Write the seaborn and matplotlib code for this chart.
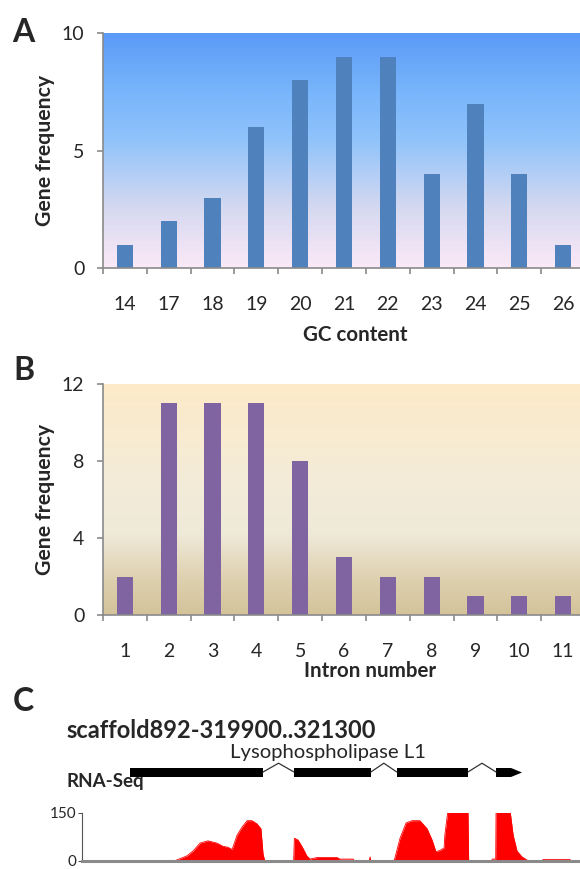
import numpy as np
import matplotlib
matplotlib.use("Agg")
import matplotlib.pyplot as plt
import seaborn as sns
from matplotlib.colors import LinearSegmentedColormap
from matplotlib.patches import Rectangle, Polygon

# ---------------- data ----------------
gc_content = ["14", "17", "18", "19", "20", "21", "22", "23", "24", "25", "26"]
gc_freq = [1, 2, 3, 6, 8, 9, 9, 4, 7, 4, 1]

intron_number = ["1", "2", "3", "4", "5", "6", "7", "8", "9", "10", "11"]
intron_freq = [2, 11, 11, 11, 8, 3, 2, 2, 1, 1, 1]

scaffold_title = "scaffold892-319900..321300"
gene_name = "Lysophospholipase L1"
region_start, region_end = 319900, 321300
exon_starts = [320035, 320496, 320785, 321064]
exon_ends = [320409, 320712, 320985, 321106]
arrow_tip = 321137

cov_pos = [320159, 320195, 320212, 320232, 320254, 320279, 320296, 320310, 320322,
           320336, 320350, 320364, 320378, 320392, 320403, 320409, 320414,
           320495, 320497, 320507, 320518, 320532, 320541, 320561, 320617, 320625,
           320662, 320667, 320707, 320710, 320712,
           320777, 320780, 320794, 320811, 320828, 320850, 320870, 320884, 320895,
           320906, 320918, 320920, 320929, 320985, 320987,
           321052, 321053, 321063, 321064, 321103, 321112, 321123, 321137, 321151,
           321159, 321195, 321196, 321272, 321273]
cov_val = [0, 16, 31, 56, 63, 56, 46, 43, 36,
           81, 106, 126, 126, 116, 101, 21, 0,
           0, 71, 66, 46, 16, 6, 11, 11, 6,
           6, 0, 0, 13, 0,
           0, 11, 71, 119, 126, 126, 101, 66, 29,
           33, 41, 81, 160, 160, 0,
           0, 6, 6, 160, 160, 81, 31, 13, 3,
           0, 0, 5, 5, 0]

# ---------------- style ----------------
sns.set_theme(style="white")
plt.rcParams['font.family'] = ['Lato', 'DejaVu Sans']

W, H = 580, 869
fig = plt.figure(figsize=(W / 100, H / 100), dpi=100)


def ax_px(l, t, r, b):
    return fig.add_axes([l / W, 1 - b / H, (r - l) / W, (b - t) / H])


def ftext(x, y, s, **kw):
    return fig.text(x / W, 1 - y / H, s, **kw)


GRAY = "#8a8a8a"

cmapA = LinearSegmentedColormap.from_list(
    "A", [(0.0, "#fbe9f7"), (0.25, "#d6d9f0"), (0.55, "#8fc3fb"), (0.75, "#78b5fb"), (1.0, "#5b9bf8")])
cmapB = LinearSegmentedColormap.from_list(
    "B", [(0.0, "#d4c39a"), (0.15, "#ddd0ae"), (0.35, "#efe9d8"), (0.6, "#f4ecd8"), (1.0, "#fdeac8")])


def bar_panel(ax, cats, vals, color, ymax, yticks, cmap, xlabel, xlab_x, xlab_y):
    sns.barplot(x=cats, y=vals, color=color, width=0.37, saturation=1,
                linewidth=0, ax=ax, zorder=2)
    n = len(cats)
    ax.set_xlim(-0.5, n - 0.5)
    ax.set_ylim(0, ymax)
    grad = np.linspace(0, 1, 256).reshape(-1, 1)
    ax.imshow(grad, cmap=cmap, origin="lower", aspect="auto",
              extent=[-0.5, n - 0.5, 0, ymax], zorder=0)
    ax.set_xlim(-0.5, n - 0.5)
    ax.set_ylim(0, ymax)
    ax.set_yticks(yticks)
    ax.set_xticks(np.arange(-0.5, n, 1), minor=True)
    for s in ["top", "right"]:
        ax.spines[s].set_visible(False)
    for s in ["left", "bottom"]:
        ax.spines[s].set_color(GRAY)
        ax.spines[s].set_linewidth(1.2)
    ax.tick_params(axis="x", which="major", length=0, pad=20, labelsize=14)
    ax.tick_params(axis="x", which="minor", length=4.5, width=1.2, color=GRAY,
                   direction="out", bottom=True)
    ax.tick_params(axis="y", which="major", length=4.5, width=1.2, color=GRAY,
                   direction="out", left=True, pad=9, labelsize=14)
    ax.set_ylabel("Gene frequency", fontsize=15.3, fontweight="bold")
    ax.yaxis.set_label_coords(-0.10, 0.5)
    ax.set_xlabel(xlabel, fontsize=14.8, fontweight="bold")
    ax.xaxis.set_label_coords(xlab_x, xlab_y)


# Panel A
axA = ax_px(103, 33, 585, 268)
bar_panel(axA, gc_content, gc_freq, "#4f81bd", 10, [0, 5, 10], cmapA, "GC content", 0.523, -0.243)

# Panel B
axB = ax_px(103, 384, 585, 615)
bar_panel(axB, intron_number, intron_freq, "#8064a2", 12, [0, 4, 8, 12], cmapB, "Intron number", 0.554, -0.20)

# Panel letters
ftext(12, 42, "A", fontsize=23, fontweight="bold", va="baseline")
ftext(13, 380, "B", fontsize=23, fontweight="bold", va="baseline")
ftext(13, 711, "C", fontsize=23, fontweight="bold", va="baseline")

# Panel C texts
ftext(66, 738, scaffold_title, fontsize=17, fontweight="bold", va="baseline")
ftext(328, 758, gene_name, fontsize=14.6, ha="center", va="baseline")
ftext(66, 787, "RNA-Seq", fontsize=13.5, fontweight="bold", va="baseline")

# Gene model track
axG = ax_px(82, 740, 580, 780)
axG.set_xlim(region_start, region_end)
axG.set_ylim(0, 1)
axG.axis("off")
for i, (s, e) in enumerate(zip(exon_starts, exon_ends)):
    axG.add_patch(Rectangle((s, 0.075), e - s, 0.225, color="black", lw=0))
    if i < len(exon_starts) - 1:
        ns = exon_starts[i + 1]
        mid = (e + ns) / 2
        axG.plot([e, mid, ns], [0.2, 0.42, 0.2], color="#333333", lw=0.9)
axG.add_patch(Polygon([(exon_ends[-1], 0.075), (arrow_tip, 0.1875), (exon_ends[-1], 0.3)],
                      closed=True, color="black", lw=0))

# Coverage track
axC = ax_px(82, 813, 580, 861)
sns.lineplot(x=cov_pos, y=cov_val, color="red", lw=0.6, ax=axC)
axC.fill_between(cov_pos, cov_val, color="red", lw=0)
axC.set_xlim(region_start, region_end)
axC.set_ylim(0, 150)
axC.set_yticks([0, 150])
axC.set_xticks([])
for s in ["top", "right"]:
    axC.spines[s].set_visible(False)
axC.spines["left"].set_color("#555555")
axC.spines["left"].set_linewidth(0.8)
axC.spines["bottom"].set_color("#8a8a8a")
axC.spines["bottom"].set_linewidth(2.2)
axC.tick_params(axis="y", length=3, width=0.8, color="#555555", direction="out",
                left=True, pad=1, labelsize=11)

fig.savefig("out.png", dpi=100)
